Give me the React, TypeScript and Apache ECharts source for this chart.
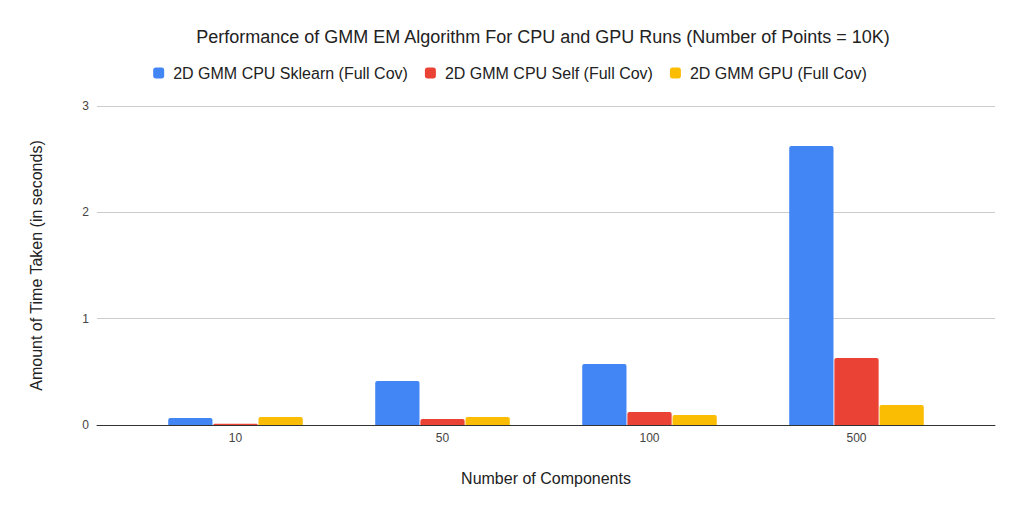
import React, { useEffect, useRef } from "react";
import * as echarts from "echarts";

const categories = ["10", "50", "100", "500"];
const sklearn = [0.066, 0.414, 0.574, 2.624];
const cpuSelf = [0.012, 0.056, 0.122, 0.63];
const gpu = [0.075, 0.075, 0.094, 0.188];
const seriesNames = [
  "2D GMM CPU Sklearn (Full Cov)",
  "2D GMM CPU Self (Full Cov)",
  "2D GMM GPU (Full Cov)",
];
const colors = ["#4285f4", "#ea4335", "#fbbc04"];

export default function App() {
  const ref = useRef<HTMLDivElement>(null);
  useEffect(() => {
    const chart = echarts.init(ref.current!, null, { renderer: "svg" });
    const font = "Arial, 'Liberation Sans', sans-serif";
    const mk = (name: string, data: number[], color: string) => ({
      name,
      type: "bar",
      xAxisIndex: 1,
      yAxisIndex: 1,
      data,
      barGap: "2%",
      barCategoryGap: "35%",
      itemStyle: { color, borderRadius: [2, 2, 0, 0] },
    });
    chart.setOption({
      animation: false,
      backgroundColor: "#fff",
      textStyle: { fontFamily: font },
      title: {
        text: "Performance of GMM EM Algorithm For CPU and GPU Runs (Number of Points = 10K)",
        left: 538,
        top: 23,
        textAlign: "center",
        textStyle: { fontSize: 18, fontWeight: "normal", color: "#222", fontFamily: font },
      },
      legend: {
        top: 60,
        left: "center",
        itemWidth: 11,
        itemHeight: 11,
        itemGap: 17,
        icon: "roundRect",
        textStyle: { fontSize: 16, color: "#222", fontFamily: font, padding: [0, 0, 0, 4] },
        data: seriesNames,
      },
      grid: [
        { left: 97, right: 25, top: 106, bottom: 89 },
        { left: 132, right: 60, top: 106, bottom: 89 },
      ],
      xAxis: [
        {
          type: "category",
          gridIndex: 0,
          data: [""],
          axisLine: { show: true, lineStyle: { color: "#333" } },
          axisTick: { show: false },
          axisLabel: { show: false },
          name: "Number of Components",
          nameLocation: "middle",
          nameGap: 45,
          nameTextStyle: { fontSize: 16, color: "#222", fontFamily: font },
        },
        {
          type: "category",
          gridIndex: 1,
          data: categories,
          axisLine: { show: false },
          axisTick: { show: false },
          axisLabel: { fontSize: 12, color: "#444", margin: 7, fontFamily: font },
        },
      ],
      yAxis: [
        {
          type: "value",
          gridIndex: 0,
          min: 0,
          max: 3,
          interval: 1,
          axisLine: { show: false },
          axisTick: { show: false },
          axisLabel: { fontSize: 12, color: "#444", margin: 8, fontFamily: font },
          splitLine: { lineStyle: { color: "#ccc" } },
          name: "Amount of Time Taken (in seconds)",
          nameLocation: "middle",
          nameGap: 53,
          nameTextStyle: { fontSize: 16, color: "#222", fontFamily: font },
        },
        {
          type: "value",
          gridIndex: 1,
          min: 0,
          max: 3,
          interval: 1,
          axisLine: { show: false },
          axisTick: { show: false },
          axisLabel: { show: false },
          splitLine: { show: false },
        },
      ],
      series: [
        mk(seriesNames[0], sklearn, colors[0]),
        mk(seriesNames[1], cpuSelf, colors[1]),
        mk(seriesNames[2], gpu, colors[2]),
      ],
    });
    return () => chart.dispose();
  }, []);
  return (
    <div
      ref={ref}
      style={{ position: "fixed", left: 0, top: 0, width: 1020, height: 514 }}
    />
  );
}
